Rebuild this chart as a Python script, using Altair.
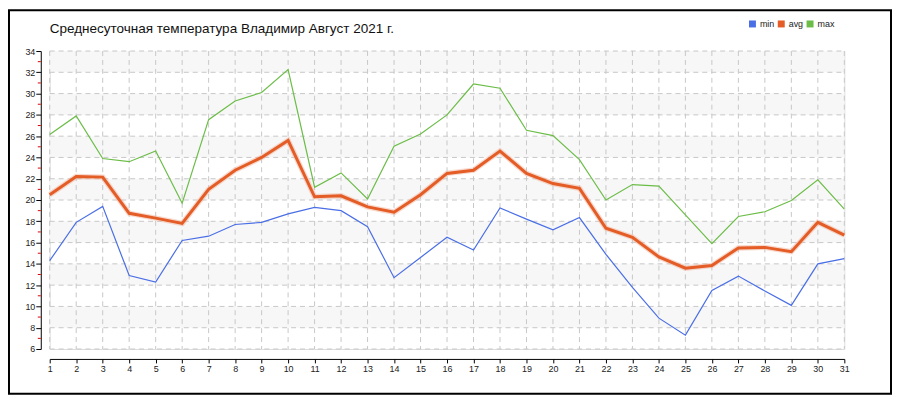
import altair as alt
import pandas as pd

days = list(range(1, 32))
t_min = [14.3, 17.9, 19.4, 12.9, 12.3, 16.2, 16.6, 17.7, 17.9, 18.7,
         19.3, 19.0, 17.5, 12.7, 14.6, 16.5, 15.3, 19.25, 18.2, 17.2,
         18.35, 14.9, 11.8, 8.9, 7.3, 11.5, 12.85, 11.45, 10.1, 14.0, 14.5]
t_avg = [20.5, 22.2, 22.15, 18.75, 18.3, 17.8, 21.0, 22.8, 24.0, 25.6,
         20.3, 20.4, 19.35, 18.85, 20.5, 22.5, 22.8, 24.6, 22.5, 21.55,
         21.1, 17.35, 16.5, 14.65, 13.6, 13.85, 15.5, 15.55, 15.15, 17.9, 16.7]
t_max = [26.15, 27.9, 23.9, 23.6, 24.6, 19.7, 27.55, 29.3, 30.1, 32.25,
         21.2, 22.55, 20.1, 25.05, 26.2, 28.0, 30.9, 30.5, 26.55, 26.05,
         23.8, 20.0, 21.45, 21.3, 18.6, 15.9, 18.45, 18.9, 19.95, 21.9, 19.15]
series = ["min", "avg", "max"]
colors = ["#4a6ee6", "#e45c26", "#6cbd48"]
y_ticks = list(range(6, 35, 2))
y_minor = list(range(7, 34, 2))
band_starts = [8, 12, 16, 20, 24, 28, 32]
title_text = "Среднесуточная температура Владимир  Август 2021 г."

df_min = pd.DataFrame({"day": days, "temp": t_min})
df_avg = pd.DataFrame({"day": days, "temp": t_avg})
df_max = pd.DataFrame({"day": days, "temp": t_max})
df_leg = pd.DataFrame({"series": series})

xs = alt.Scale(domain=[1, 31], nice=False, zero=False)
ys = alt.Scale(domain=[6, 34], nice=False, zero=False)
cs = alt.Scale(domain=series, range=colors)
FONT = "Liberation Sans"

x_axis = alt.Axis(values=days, title=None, grid=False, offset=10, tickSize=4,
                  labelFontSize=9, labelFont=FONT, labelColor="#222", labelPadding=2,
                  domainColor="black", tickColor="black", labelFlush=False)
y_axis = alt.Axis(values=y_ticks, title=None, grid=False, offset=9, tickSize=5,
                  labelFontSize=9, labelFont=FONT, labelColor="#222", labelPadding=1,
                  domainColor="black", tickColor="black")

X = lambda f: alt.X(f, scale=xs, axis=x_axis)
Y = lambda f: alt.Y(f, scale=ys, axis=y_axis)

bands = alt.Chart(pd.DataFrame({"y0": band_starts, "y1": [b + 2 for b in band_starts]})).mark_rect(
    color="#f7f7f7").encode(
    x=alt.value(0), x2=alt.value(800), y=Y("y0:Q"), y2="y1:Q")

hgrid = alt.Chart(pd.DataFrame({"y": y_ticks})).mark_rule(
    color="#c8c8c8", strokeDash=[5, 4], strokeWidth=1).encode(
    x=alt.value(0), x2=alt.value(800), y=Y("y:Q"))

vgrid = alt.Chart(pd.DataFrame({"d": days})).mark_rule(
    color="#c8c8c8", strokeDash=[5, 4], strokeWidth=1).encode(
    x=X("d:Q"), y=alt.value(0), y2=alt.value(300))

minor = alt.Chart(pd.DataFrame({"y": y_minor})).mark_rule(color="#e00000", strokeWidth=1).encode(
    x=alt.value(-12), x2=alt.value(-9), y=Y("y:Q"))

halo = alt.Chart(df_avg).mark_line(color="#f2b49c", strokeWidth=5.5, opacity=0.5).encode(
    x=X("day:Q"), y=Y("temp:Q"))


def line(d, c, w):
    return alt.Chart(d).mark_line(strokeWidth=w, color=c).encode(
        x=X("day:Q"), y=Y("temp:Q"))


leg = alt.Chart(df_leg).mark_square(size=49, opacity=1).encode(
    x=alt.value(-100), y=alt.value(-100),
    color=alt.Color("series:N", scale=cs, sort=series,
                    legend=alt.Legend(title=None, orient="none", legendX=703, legendY=-32,
                                      direction="horizontal", symbolType="square",
                                      symbolSize=49, symbolStrokeWidth=0,
                                      labelFontSize=9, labelFont=FONT, labelColor="#222",
                                      labelOffset=3, columnPadding=2)))

border = alt.Chart(pd.DataFrame({"a": [0]})).mark_rect(
    fillOpacity=0, stroke="black", strokeWidth=2).encode(
    x=alt.value(-41), x2=alt.value(847), y=alt.value(-41), y2=alt.value(345))

title = alt.Chart(pd.DataFrame({"t": [title_text]})).mark_text(
    align="left", baseline="alphabetic", fontSize=13.6, font=FONT, color="#111").encode(
    x=alt.value(0), y=alt.value(-18), text="t:N")

chart = alt.layer(bands, hgrid, vgrid, minor, halo,
                  line(df_min, colors[0], 1.2), line(df_max, colors[2], 1.2),
                  line(df_avg, colors[1], 3),
                  leg, border, title).properties(
    width=800, height=300,
    autosize=alt.AutoSizeParams(type="none"),
    padding={"left": 42, "top": 42, "right": 48, "bottom": 46},
).configure_view(stroke=None).configure(background="white")

chart.save("out.html", embed_options={"renderer": "svg", "actions": False})
